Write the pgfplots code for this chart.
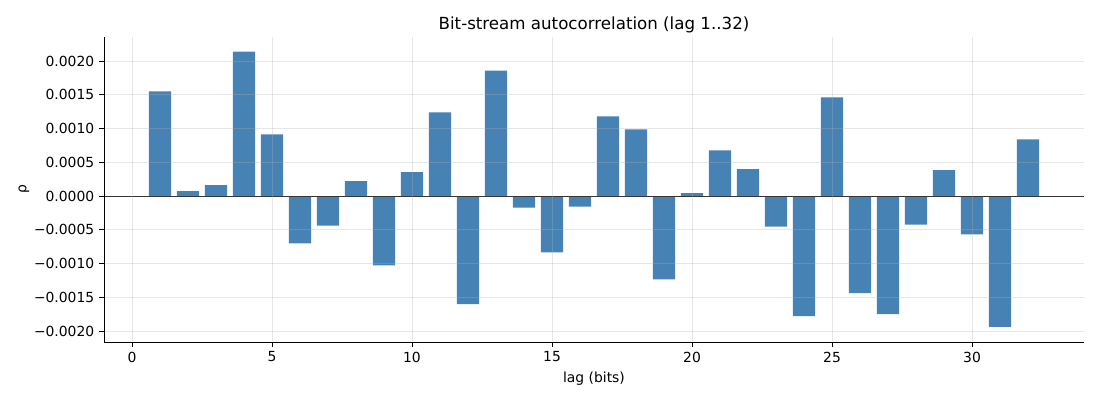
\documentclass[border=0pt]{standalone}
\usepackage{pgfplots}
\pgfplotsset{compat=1.18}
\usepackage{fontspec}
\setmainfont{DejaVu Sans}
\definecolor{steel}{HTML}{4682B4}
\definecolor{gridc}{HTML}{B0B0B0}
\begin{document}
\begin{tikzpicture}
\path[use as bounding box] (-74.88bp,-41.76bp) rectangle (717.12bp,246.24bp);
\begin{axis}[
  at={(0,0)}, anchor=south west,
  scale only axis, width=705.6bp, height=219.6bp,
  xmin=-1, xmax=34, ymin=-0.002163, ymax=0.002356,
  axis x line*=bottom, axis y line*=left,
  axis line style={line width=0.58bp, black},
  every outer x axis line/.append style={-}, every outer y axis line/.append style={-},
  tick align=outside, major tick length=3.5bp,
  every tick/.style={black, line width=0.58bp},
  xtick={0,5,10,15,20,25,30},
  ytick={-0.002,-0.0015,-0.001,-0.0005,0,0.0005,0.001,0.0015,0.002},
  yticklabels={−0.0020,−0.0015,−0.0010,−0.0005,0.0000,0.0005,0.0010,0.0015,0.0020},
  scaled y ticks=false,
  /pgf/number format/assume math mode=true,
  ticklabel style={font=\fontsize{10bp}{12bp}\selectfont},
  xmajorgrids, ymajorgrids,
  major grid style={gridc, opacity=0.3, line width=0.58bp},
  axis on top,
  title={Bit-stream autocorrelation (lag 1..32)},
  title style={font=\fontsize{12bp}{14bp}\selectfont, yshift=-6.5bp},
  xlabel={lag (bits)}, ylabel={ρ},
  label style={font=\fontsize{10bp}{12bp}\selectfont},
  xlabel style={yshift=0bp},
  ylabel style={yshift=-3.5bp},
]
\addplot[ybar, bar width=0.8, fill=steel, draw=none, bar shift=0pt] coordinates {
(1,0.00155) (2,0.000074) (3,0.000162) (4,0.002139) (5,0.000914) (6,-0.000703)
(7,-0.000438) (8,0.000221) (9,-0.001028) (10,0.000354) (11,0.001239) (12,-0.001603)
(13,0.001858) (14,-0.000172) (15,-0.000836) (16,-0.000157) (17,0.00118) (18,0.000988)
(19,-0.001234) (20,0.000044) (21,0.000678) (22,0.000398) (23,-0.000452) (24,-0.00178)
(25,0.00146) (26,-0.00144) (27,-0.00175) (28,-0.000423) (29,0.000383) (30,-0.00057)
(31,-0.00194) (32,0.000841)
};
\addplot[black, line width=0.58bp] coordinates {(-1,0) (34,0)};
\end{axis}
\end{tikzpicture}
\end{document}
